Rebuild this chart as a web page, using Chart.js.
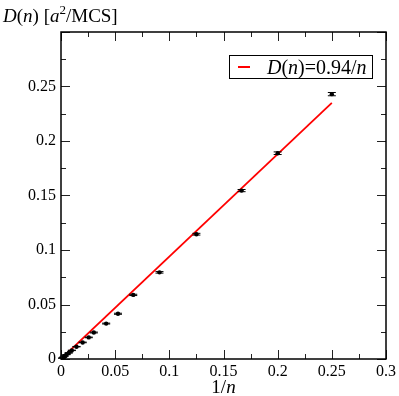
<!DOCTYPE html>
<html>
<head>
<meta charset="utf-8">
<script src="https://cdn.jsdelivr.net/npm/chart.js@4.4.1/dist/chart.umd.min.js"></script>
<style>
  html, body { margin: 0; padding: 0; background: #fff; }
  #wrap { width: 399px; height: 396px; }
</style>
</head>
<body>
<div id="wrap"><canvas id="c" width="399" height="396"></canvas></div>
<script>
// ---- data ----
const invN   = [0.25, 0.2, 0.1667, 0.125, 0.0909, 0.0667, 0.0526, 0.0417, 0.0303, 0.0256, 0.02, 0.0143, 0.01, 0.0071, 0.005, 0.0033, 0.002, 0.001];
const diffD  = [0.243, 0.1888, 0.1545, 0.1145, 0.0795, 0.0588, 0.0415, 0.0325, 0.0243, 0.0198, 0.0152, 0.0113, 0.0079, 0.0056, 0.0040, 0.0027, 0.0016, 0.0008];
const diffErr = [0.0015, 0.0012, 0.001, 0.0008, 0.0007, 0.0006, 0.0005, 0.0004, 0.0004, 0.0003, 0.0003, 0.0002, 0.0002, 0.0002, 0.0001, 0.0001, 0.0001, 0.0001];
const fitX = [0, 0.25];
const fitY = [0, 0.235];
const xTicks = [0, 0.05, 0.1, 0.15, 0.2, 0.25, 0.3];
const yTicks = [0, 0.05, 0.1, 0.15, 0.2, 0.25];
const legendLabel = [{t:'D', i:true},{t:'('},{t:'n', i:true},{t:')=0.94/'},{t:'n', i:true}];
const yTitle = [{t:'D', i:true},{t:'('},{t:'n', i:true},{t:') ['},{t:'a', i:true},{t:'2', sup:true},{t:'/MCS]'}];
const xTitle = [{t:'1/'},{t:'n', i:true}];

const FONT = 'Liberation Serif';

Chart.defaults.font.family = FONT;
Chart.defaults.font.size = 16;
Chart.defaults.color = '#000';

function drawRich(ctx, segs, x, y, size, align) {
  const fontFor = s => (s.i ? 'italic ' : '') + (s.sup ? Math.round(size*0.7) : size) + 'px "' + FONT + '"';
  let total = 0;
  segs.forEach(s => { ctx.font = fontFor(s); total += ctx.measureText(s.t).width; });
  let cx = align === 'center' ? x - total/2 : x;
  ctx.textAlign = 'left';
  ctx.textBaseline = 'alphabetic';
  ctx.fillStyle = '#000';
  segs.forEach(s => {
    ctx.font = fontFor(s);
    ctx.fillText(s.t, cx, s.sup ? y - size*0.42 : y);
    cx += ctx.measureText(s.t).width;
  });
}

const decorPlugin = {
  id: 'decor',
  afterDatasetsDraw(chart) {
    const ctx = chart.ctx;
    const xs = chart.scales.x, ys = chart.scales.y;
    const a = chart.chartArea;
    ctx.save();
    // error bars
    ctx.strokeStyle = '#000';
    ctx.lineWidth = 1;
    for (let k = 0; k < invN.length; k++) {
      const px = xs.getPixelForValue(invN[k]);
      const top = ys.getPixelForValue(diffD[k] + diffErr[k]);
      const bot = ys.getPixelForValue(diffD[k] - diffErr[k]);
      ctx.beginPath();
      ctx.moveTo(px, top); ctx.lineTo(px, bot);
      ctx.moveTo(px - 4, top); ctx.lineTo(px + 4, top);
      ctx.moveTo(px - 4, bot); ctx.lineTo(px + 4, bot);
      ctx.stroke();
    }
    // ticks (inward, all four sides)
    ctx.strokeStyle = '#222';
    ctx.lineWidth = 1;
    ctx.beginPath();
    for (let k = 0; k <= 12; k++) {
      const v = k * 0.025;
      const len = k % 2 === 0 ? 9 : 5;
      const px = Math.round(xs.getPixelForValue(v)) + 0.5;
      ctx.moveTo(px, a.bottom); ctx.lineTo(px, a.bottom - len);
      ctx.moveTo(px, a.top); ctx.lineTo(px, a.top + len);
      const py = Math.round(ys.getPixelForValue(v)) + 0.5;
      ctx.moveTo(a.left, py); ctx.lineTo(a.left + len, py);
      ctx.moveTo(a.right, py); ctx.lineTo(a.right - len, py);
    }
    ctx.stroke();
    // frame
    ctx.strokeStyle = '#000';
    ctx.lineWidth = 1.5;
    ctx.strokeRect(a.left, a.top, a.right - a.left, a.bottom - a.top);
    // legend
    ctx.lineWidth = 1;
    ctx.strokeStyle = '#000';
    ctx.fillStyle = '#fff';
    ctx.fillRect(229.5, 55.5, 143, 23);
    ctx.strokeRect(229.5, 55.5, 143, 23);
    ctx.strokeStyle = '#ff0000';
    ctx.lineWidth = 2;
    ctx.beginPath(); ctx.moveTo(238, 67); ctx.lineTo(250, 67); ctx.stroke();
    drawRich(ctx, legendLabel, 267, 74, 20, 'left');
    // titles
    drawRich(ctx, yTitle, 3, 22, 19, 'left');
    drawRich(ctx, xTitle, (a.left + a.right) / 2, 393, 19, 'center');
    ctx.restore();
  }
};

const fmt = v => String(Number(v.toFixed(3)));

function build() {
  new Chart(document.getElementById('c'), {
    type: 'scatter',
    data: {
      datasets: [
        {
          label: 'D(n)=0.94/n',
          type: 'line',
          data: fitX.map((x, i) => ({x, y: fitY[i]})),
          borderColor: '#ff0000',
          borderWidth: 1.8,
          pointRadius: 0,
          fill: false,
          order: 2
        },
        {
          label: 'data',
          data: invN.map((x, i) => ({x, y: diffD[i]})),
          backgroundColor: '#000',
          borderColor: '#000',
          pointRadius: 2.2,
          borderWidth: 0,
          showLine: false,
          order: 1
        }
      ]
    },
    options: {
      responsive: false,
      animation: false,
      devicePixelRatio: 1,
      layout: { padding: { top: 32, right: 10, left: 0, bottom: 0 } },
      plugins: { legend: { display: false }, tooltip: { enabled: false } },
      scales: {
        x: {
          type: 'linear', min: 0, max: 0.3,
          grid: { display: false, drawTicks: false, tickLength: 0 }, border: { display: false },
          afterBuildTicks: s => { s.ticks = xTicks.map(v => ({value: v})); },
          afterFit: s => { s.height = 37; },
          ticks: { padding: 3, color: '#000', font: { family: FONT, size: 16 }, maxRotation: 0, callback: v => fmt(v) }
        },
        y: {
          type: 'linear', min: 0, max: 0.3,
          grid: { display: false, drawTicks: false, tickLength: 0 }, border: { display: false },
          afterBuildTicks: s => { s.ticks = yTicks.map(v => ({value: v})); },
          afterFit: s => { s.width = 61; },
          ticks: { padding: 5, color: '#000', font: { family: FONT, size: 16 }, callback: v => fmt(v) }
        }
      }
    },
    plugins: [decorPlugin]
  });
}

Promise.all([
  document.fonts.load('16px "Liberation Serif"'),
  document.fonts.load('italic 16px "Liberation Serif"')
]).then(build, build);
</script>
</body>
</html>
